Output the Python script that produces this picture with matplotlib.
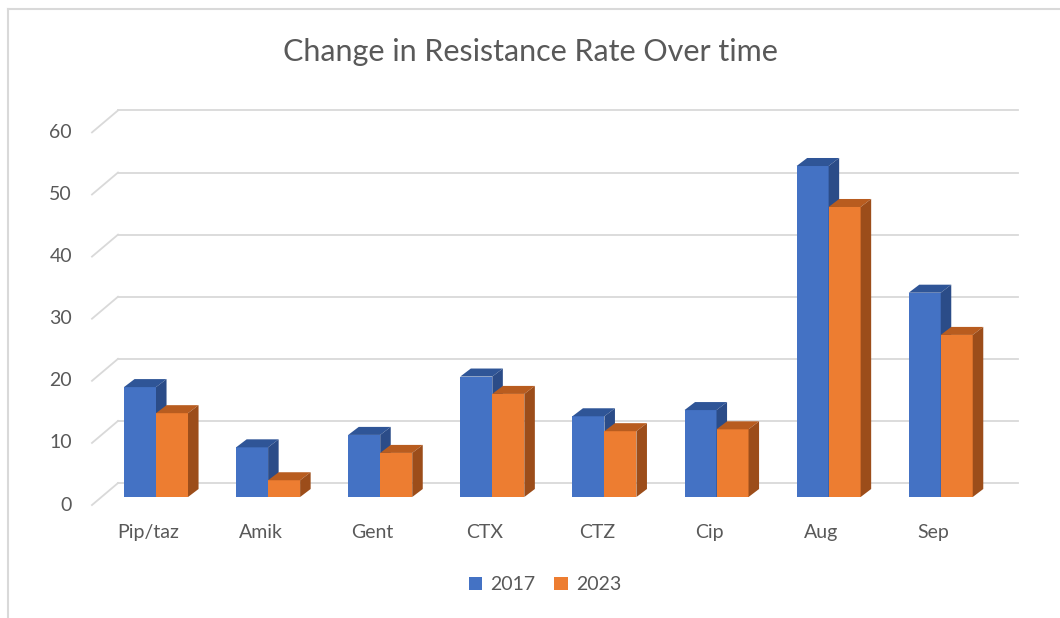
import matplotlib
matplotlib.use("Agg")
import matplotlib.pyplot as plt
from matplotlib.patches import Polygon, Patch
from matplotlib.lines import Line2D

plt.rcParams['font.family'] = ['Lato', 'DejaVu Sans']

# data
categories = ["Pip/taz", "Amik", "Gent", "CTX", "CTZ", "Cip", "Aug", "Sep"]
vals_2017 = [17.7, 8, 10, 19.4, 13, 14, 53.3, 32.9]
vals_2023 = [13.5, 2.7, 7.1, 16.6, 10.6, 10.9, 46.7, 26.1]
series = ["2017", "2023"]
y_ticks = [0, 10, 20, 30, 40, 50, 60]

# colours (front, top, side)
blue = ("#4472C4", "#2F5597", "#2B4C88")
orange = ("#ED7D31", "#B85C1F", "#9C4D1A")
grid_col = "#D9D9D9"
text_col = "#595959"

fig = plt.figure(figsize=(10.6, 6.18), dpi=100)
ax = fig.add_axes([0, 0, 1, 1])
ax.set_xlim(-1.3916, 8.064)
ax.set_ylim(-19.48, 80.03)
ax.axis("off")

# fake 3d offsets in data units
bw = 0.2855           # bar width
dx, dy = 0.094, 1.29  # bar depth
bx, by = 0.147, 2.25  # bar plane -> back wall
fx, fy = -0.085, -1.29  # bar plane -> front edge
wall_left, wall_right = -0.339, 7.69

# back wall gridlines and the slanted side wall lines
for v in y_ticks:
    ax.plot([wall_left, wall_right], [v + by, v + by], color=grid_col, lw=1.3, zorder=1)
    ax.plot([wall_left - 0.232, wall_left], [v + fy, v + by], color=grid_col, lw=1.3, zorder=1)
    ax.text(-0.749, v + fy, str(v), ha="right", va="center", fontsize=14, color=text_col)


def bar3d(x0, h, cols):
    front, top, side = cols
    ax.add_patch(Polygon([(x0, 0), (x0 + bw, 0), (x0 + bw, h), (x0, h)],
                         closed=True, facecolor=front, edgecolor="none", zorder=3))
    ax.add_patch(Polygon([(x0, h), (x0 + bw, h), (x0 + bw + dx, h + dy), (x0 + dx, h + dy)],
                         closed=True, facecolor=top, edgecolor="none", zorder=3))
    ax.add_patch(Polygon([(x0 + bw, 0), (x0 + bw + dx, dy), (x0 + bw + dx, h + dy), (x0 + bw, h)],
                         closed=True, facecolor=side, edgecolor="none", zorder=3))


for i, cat in enumerate(categories):
    bar3d(i - bw, vals_2017[i], blue)
    bar3d(i, vals_2023[i], orange)
    ax.text(i - 0.067, -5.64, cat, ha="center", va="center", fontsize=14, color=text_col)

fig.text(0.5, 0.916, "Change in Resistance Rate Over time", ha="center", va="center",
         fontsize=22, color=text_col)

handles = [Patch(facecolor=blue[0]), Patch(facecolor=orange[0])]
ax.legend(handles, series, loc="center", bbox_to_anchor=(0.514, 0.0534), ncol=2,
          frameon=False, fontsize=14, labelcolor=text_col, handlelength=0.7,
          handleheight=0.7, handletextpad=0.4, columnspacing=1.0)

# chart area border (only top and left visible)
top_y = (618 - 9) / 618
left_x = 8 / 1060
fig.add_artist(Line2D([left_x, left_x], [0, top_y], color=grid_col, lw=1.5))
fig.add_artist(Line2D([left_x, 1], [top_y, top_y], color=grid_col, lw=1.5))

fig.savefig("out.png", dpi=100)
